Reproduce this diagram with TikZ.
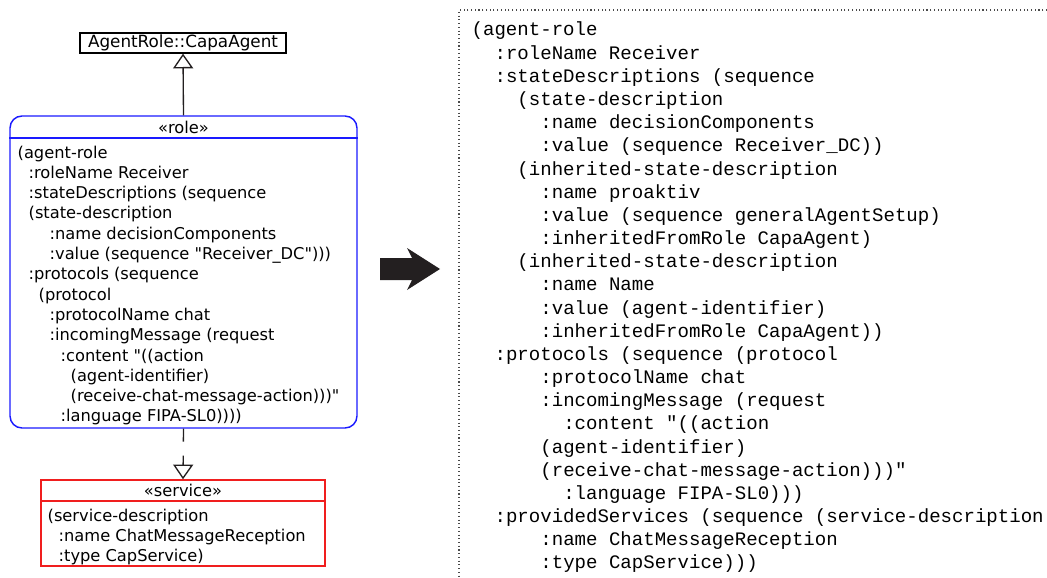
\documentclass[tikz,border=0pt]{standalone}
\usepackage{fontspec}
\setmainfont{DejaVu Sans}
\setmonofont{Liberation Mono}
\usetikzlibrary{arrows.meta, positioning, fit}
\definecolor{cblue}{HTML}{1A1AFF}
\definecolor{cred}{HTML}{F01E1E}
\definecolor{cdark}{HTML}{231F20}
\definecolor{cdot}{HTML}{4A4A4A}
\tikzset{
  every picture/.style={line width=1pt},
  umlbox/.style={draw=#1, inner sep=0pt},
  umlbox/.default=black,
  sans/.style={font=\fontsize{12.2}{15}\selectfont, inner sep=0pt},
  mono/.style={font=\ttfamily\fontsize{14.3}{17}\selectfont, inner sep=0pt, anchor=base west},
  inherit/.style={-{Triangle[open, length=11pt, width=15pt]}, draw=cdark},
  realize/.style={inherit, dash pattern=on 9.75pt off 10.5pt},
}

\begin{document}
\begin{tikzpicture}[x=0.75pt, y=-0.75pt]
  \useasboundingbox (0,0) rectangle (1047,578);
  % UML side: parent role, role, service
  \node[umlbox, fit={(80,33) (286,53)}] (agent) {};
  \node[sans, font=\fontsize{12.6}{15}\selectfont] (agentlbl) at (agent.center) {AgentRole::CapaAgent};
  \node[umlbox=cblue, line width=1.1pt, rounded corners=9pt, fit={(10,116) (357,428)}] (role) {};
  \node[sans] (rolehead) at (183.5,127) {«role»};
  \coordinate (rolesep) at (0,138);
  \draw[cblue, line width=1.1pt] (role.west |- rolesep) -- (role.east |- rolesep);
  \foreach \ind/\txt [count=\i from 0] in {0/{(agent-role}, 11/{:roleName Receiver},
      11/{:stateDescriptions (sequence}, 11/{(state-description},
      32/{:name decisionComponents}, 32/{:value (sequence \textquotedbl Receiver\_DC\textquotedbl)))},
      11/{:protocols (sequence}, 21/{(protocol}, 32/{:protocolName chat},
      32/{:incomingMessage (request}, 43/{:content \textquotedbl((action},
      53/{(agent-identifier)}, 53/{(receive-chat-message-action)))\textquotedbl},
      43/{:language FIPA-SL0))))}}
    \node[sans, anchor=base west] (rl\i) at ({17+\ind}, {158+\i*20.3}) {\txt};
  \node[umlbox=cred, line width=1.1pt, fit={(41,480) (325,566)}] (svc) {};
  \node[sans] (svchead) at (183,490) {«service»};
  \coordinate (svcsep) at (0,501);
  \draw[cred, line width=1.1pt] (svc.west |- svcsep) -- (svc.east |- svcsep);
  \foreach \ind/\txt [count=\i from 0] in {0/{(service-description},
      11/{:name ChatMessageReception}, 11/{:type CapService)}}
    \node[sans, anchor=base west] (sl\i) at ({47+\ind}, {521+\i*20}) {\txt};
  \draw[inherit] (role.north) -- (agent.south);
  \draw[realize] (role.south) -- (svc.north);
  % big arrow
  \fill[cdark] (380,258) -- (412,258) -- (407,248) -- (440,269) -- (407,290)
    -- (412,280) -- (380,280) -- cycle;
  % generated description
  \draw[cdot, dotted, line width=0.8pt] (1047,10) -- (459,10) -- (459,578);
  \foreach \ind/\txt [count=\i from 0] in {0/{(agent-role}, 2/{:roleName Receiver},
      2/{:stateDescriptions (sequence}, 4/{(state-description},
      6/{:name decisionComponents}, 6/{:value (sequence Receiver\_DC))},
      4/{(inherited-state-description}, 6/{:name proaktiv},
      6/{:value (sequence generalAgentSetup)}, 6/{:inheritedFromRole CapaAgent)},
      4/{(inherited-state-description}, 6/{:name Name},
      6/{:value (agent-identifier)}, 6/{:inheritedFromRole CapaAgent))},
      2/{:protocols (sequence (protocol}, 6/{:protocolName chat},
      6/{:incomingMessage (request}, 8/{:content "((action},
      6/{(agent-identifier)}, 6/{(receive-chat-message-action)))"},
      8/{:language FIPA-SL0)))}, 2/{:providedServices (sequence (service-description},
      6/{:name ChatMessageReception}, 6/{:type CapService)))}}
    \node[mono] (cl\i) at ({471+\ind*11.45}, {36+\i*23.17}) {\txt};
\end{tikzpicture}
\end{document}
